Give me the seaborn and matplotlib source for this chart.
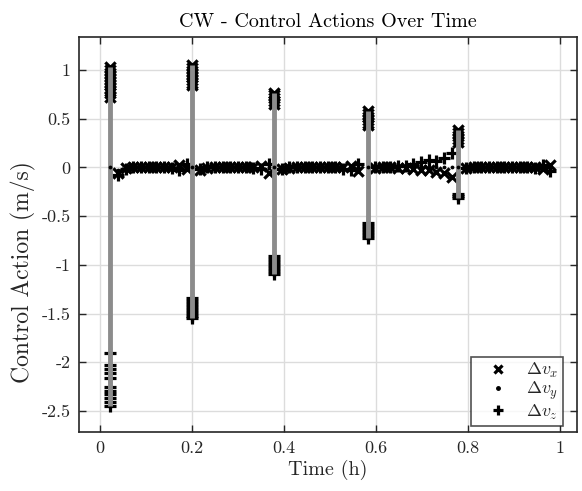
import numpy as np
import pandas as pd
import matplotlib
matplotlib.use("Agg")
import matplotlib.pyplot as plt
from matplotlib.lines import Line2D
import seaborn as sns

# ---------------- data ----------------
# background (small) control actions, time in hours
t_bg = [0.039, 0.056, 0.072, 0.089, 0.106, 0.122, 0.139, 0.156, 0.172, 0.189,
        0.217, 0.233, 0.250, 0.267, 0.283, 0.300, 0.317, 0.333, 0.350, 0.367,
        0.396, 0.412, 0.429, 0.446, 0.462, 0.479, 0.496, 0.512, 0.529, 0.546, 0.562,
        0.598, 0.615, 0.632, 0.648, 0.665, 0.682, 0.698, 0.715, 0.732, 0.748, 0.765,
        0.797, 0.813, 0.830, 0.847, 0.863, 0.880, 0.897, 0.913, 0.930, 0.947, 0.963, 0.980]
dvx_bg = [-0.06, -0.01, 0.0, 0.0, 0.0, 0.0, 0.0, 0.01, 0.03, -0.02,
          -0.03, -0.01, 0.0, 0.0, 0.0, 0.0, 0.0, 0.01, 0.02, -0.06,
          -0.02, -0.01, 0.0, 0.0, 0.0, 0.0, 0.0, 0.01, 0.01, 0.02, -0.04,
          -0.01, 0.0, 0.0, -0.01, -0.01, -0.02, -0.03, -0.03, -0.05, -0.06, -0.10,
          -0.01, 0.0, 0.0, 0.0, 0.0, 0.0, 0.0, 0.0, 0.0, 0.01, -0.02, 0.03]
dvy_bg = [-0.03, 0.0, 0.0, 0.0, 0.0, 0.0, 0.0, 0.0, 0.0, 0.0,
          0.0, 0.0, 0.0, 0.0, 0.0, 0.0, 0.0, 0.0, 0.0, 0.0,
          0.0, 0.0, 0.0, 0.0, 0.0, 0.0, 0.0, 0.0, 0.0, 0.0, 0.0,
          0.0, 0.0, 0.0, 0.0, 0.0, 0.0, 0.0, 0.0, 0.0, 0.0, 0.0,
          0.0, 0.0, 0.0, 0.0, 0.0, 0.0, 0.0, 0.0, 0.0, 0.0, 0.0, 0.0]
dvz_bg = [-0.08, -0.02, 0.0, 0.0, 0.0, 0.0, 0.0, -0.01, -0.03, 0.04,
          -0.02, 0.0, 0.0, 0.0, 0.0, 0.0, 0.0, -0.01, -0.02, 0.04,
          -0.02, 0.0, 0.0, 0.0, 0.0, 0.0, 0.0, 0.0, -0.02, -0.03, 0.04,
          0.0, 0.0, 0.01, 0.02, 0.02, 0.04, 0.06, 0.08, 0.07, 0.10, 0.15,
          -0.01, 0.0, 0.0, 0.0, 0.0, 0.0, 0.0, 0.0, 0.0, -0.01, 0.03, -0.04]

# impulsive manoeuvres
t_imp = [0.022, 0.200, 0.379, 0.582, 0.780]
imp_dvx = [[1.03, 1.00, 0.97, 0.94, 0.91, 0.88, 0.85, 0.82, 0.79, 0.76, 0.72],
           [1.05, 1.02, 0.99, 0.96, 0.93, 0.90, 0.87, 0.85],
           [0.77, 0.74, 0.71, 0.68, 0.65],
           [0.58, 0.55, 0.52, 0.49, 0.46, 0.44],
           [0.38, 0.35, 0.32, 0.29, 0.26]]
imp_dvy = [0.0, 0.0, 0.0, 0.0, 0.0]
imp_dvz = [[-1.90, -2.03, -2.07, -2.11, -2.16, -2.25, -2.29, -2.33, -2.37, -2.41, -2.45],
           [-1.34, -1.37, -1.40, -1.43, -1.46, -1.49, -1.52, -1.55],
           [-0.91, -0.94, -0.97, -1.00, -1.03, -1.06, -1.09],
           [-0.57, -0.60, -0.63, -0.66, -0.69, -0.72],
           [-0.27, -0.29, -0.31]]

labels = [r'$\Delta v_x$', r'$\Delta v_y$', r'$\Delta v_z$']
x_ticks = [0, 0.2, 0.4, 0.6, 0.8, 1]
x_ticklabels = ['0', '0.2', '0.4', '0.6', '0.8', '1']
y_ticks = [-2.5, -2, -1.5, -1, -0.5, 0, 0.5, 1]
y_ticklabels = ['-2.5', '-2', '-1.5', '-1', '-0.5', '0', '0.5', '1']

# ---------------- build tables ----------------
rows = []
for t, vx, vy, vz in zip(t_bg, dvx_bg, dvy_bg, dvz_bg):
    rows += [(t, vx, 'x'), (t, vy, 'y'), (t, vz, 'z')]
for t, cx, vy, cz in zip(t_imp, imp_dvx, imp_dvy, imp_dvz):
    rows += [(t, v, 'x') for v in cx]
    rows += [(t, vy, 'y')]
    rows += [(t, v, 'z') for v in cz]
df = pd.DataFrame(rows, columns=['time', 'value', 'comp'])

seg = pd.DataFrame({'time': t_imp,
                    'lo': [min(c) for c in imp_dvz],
                    'hi': [max(c) for c in imp_dvx]})

# ---------------- style ----------------
sns.set_style('ticks')
plt.rcParams.update({
    'font.family': ['cmr10', 'DejaVu Serif'],
    'mathtext.fontset': 'cm',
    'axes.unicode_minus': False,
    'axes.formatter.use_mathtext': False,
    'xtick.direction': 'in',
    'ytick.direction': 'in',
})

fig = plt.figure(figsize=(5.82, 4.91), dpi=100)
ax = fig.add_axes([79 / 582, 1 - 432 / 491, 498 / 582, 395 / 491])

ax.vlines(seg['time'], seg['lo'], seg['hi'], color='#8c8c8c', lw=3.5, zorder=3)

sns.scatterplot(data=df[df.comp == 'x'], x='time', y='value', marker='x',
                color='black', s=55, linewidth=2.3, ax=ax, zorder=2, legend=False)
sns.scatterplot(data=df[df.comp == 'y'], x='time', y='value', marker='.',
                color='black', s=30, linewidth=0, ax=ax, zorder=4, legend=False)
sns.scatterplot(data=df[df.comp == 'z'], x='time', y='value', marker='+',
                color='black', s=70, linewidth=2.3, ax=ax, zorder=2, legend=False)

ax.set_xlim(-0.046, 1.038)
ax.set_ylim(-2.716, 1.34)
ax.set_xticks(x_ticks)
ax.set_xticklabels(x_ticklabels)
ax.set_yticks(y_ticks)
ax.set_yticklabels(y_ticklabels)
ax.tick_params(axis='both', which='both', top=True, right=True, length=5,
               width=1, color='#262626', labelsize=13, labelcolor='#262626', pad=6)
ax.grid(True, color='#dcdcdc', lw=1)
ax.set_axisbelow(True)
for sp in ax.spines.values():
    sp.set_color('#262626')
    sp.set_linewidth(1.2)

ax.set_xlabel('Time (h)', fontsize=14.5, color='#262626', labelpad=3)
ax.set_ylabel('Control Action (m/s)', fontsize=17, color='#262626')
ax.yaxis.set_label_coords(-0.086, 0.405)
ax.set_title('CW - Control Actions Over Time', fontsize=14.5, color='black', pad=7)

handles = [Line2D([], [], ls='none', marker='x', color='black', ms=6, mew=2.3),
           Line2D([], [], ls='none', marker='.', color='black', ms=5),
           Line2D([], [], ls='none', marker='+', color='black', ms=7.5, mew=2.3)]
leg = ax.legend(handles, labels, loc='lower right', bbox_to_anchor=(0.972, 0.015),
                borderaxespad=0, fontsize=13, frameon=True, fancybox=False,
                edgecolor='#262626', handletextpad=0.3, handlelength=2.5,
                borderpad=0.25, labelspacing=0.0, numpoints=1)
leg.get_frame().set_linewidth(1.2)

fig.savefig('out.png', dpi=100)
